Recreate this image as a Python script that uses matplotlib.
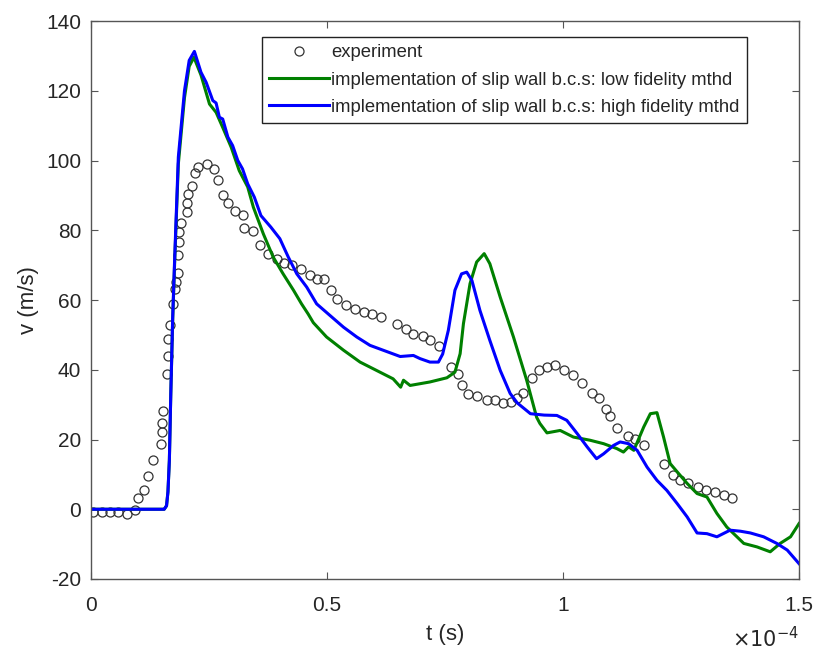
import matplotlib
matplotlib.use("Agg")
import matplotlib.pyplot as plt

plt.rcParams['font.family'] = ['Liberation Sans', 'DejaVu Sans']
plt.rcParams['axes.unicode_minus'] = False

# time in units of 1e-4 s
exp_t = [0.004, 0.023, 0.040, 0.058, 0.076, 0.093, 0.099, 0.112, 0.121, 0.131,
         0.148, 0.150, 0.150, 0.153, 0.162, 0.164, 0.164, 0.168, 0.174, 0.177,
         0.180, 0.185, 0.185, 0.187, 0.187, 0.191, 0.203, 0.203, 0.206, 0.213,
         0.220, 0.227, 0.245, 0.261, 0.269, 0.280, 0.291, 0.305, 0.323, 0.325,
         0.343, 0.359, 0.376, 0.395, 0.409, 0.425, 0.445, 0.463, 0.479, 0.494,
         0.508, 0.522, 0.540, 0.559, 0.579, 0.595, 0.614, 0.648, 0.667, 0.683,
         0.703, 0.718, 0.737, 0.762, 0.778, 0.785, 0.799, 0.817, 0.838, 0.856,
         0.872, 0.890, 0.903, 0.915, 0.935, 0.949, 0.965, 0.984, 1.002, 1.022,
         1.040, 1.061, 1.076, 1.090, 1.100, 1.115, 1.137, 1.153, 1.172, 1.213,
         1.232, 1.248, 1.265, 1.285, 1.303, 1.321, 1.340, 1.357]
exp_v = [-0.8, -0.8, -0.8, -0.8, -1.3, -0.3, 3.1, 5.4, 9.5, 14.0,
         18.8, 22.2, 24.7, 28.1, 38.9, 43.9, 48.7, 52.9, 58.9, 63.2,
         65.3, 67.7, 72.8, 76.6, 79.5, 82.0, 85.1, 87.8, 90.3, 92.8,
         96.5, 98.2, 99.1, 97.6, 94.3, 90.2, 87.8, 85.5, 84.5, 80.6,
         79.7, 75.9, 73.3, 71.8, 70.7, 69.9, 69.0, 67.3, 66.1, 65.9,
         62.9, 60.4, 58.5, 57.5, 56.5, 55.9, 55.1, 53.2, 51.8, 50.3,
         49.6, 48.6, 46.8, 40.8, 38.7, 35.7, 33.0, 32.5, 31.4, 31.4,
         30.6, 30.7, 31.9, 33.4, 37.7, 39.8, 40.8, 41.3, 40.0, 38.4,
         36.2, 33.3, 32.0, 28.7, 26.6, 23.4, 21.0, 20.1, 18.5, 13.1,
         9.9, 8.5, 7.4, 6.4, 5.4, 5.0, 4.0, 3.2]

low_t = [0, 0.155, 0.160, 0.163, 0.166, 0.169, 0.173, 0.177, 0.185, 0.198,
         0.208, 0.218, 0.233, 0.251, 0.265, 0.279, 0.297, 0.314, 0.332, 0.344,
         0.365, 0.386, 0.407, 0.429, 0.446, 0.460, 0.471, 0.499, 0.535, 0.570,
         0.605, 0.640, 0.656, 0.662, 0.676, 0.697, 0.718, 0.754, 0.771, 0.782,
         0.789, 0.803, 0.817, 0.833, 0.845, 0.867, 0.895, 0.923, 0.944, 0.951,
         0.966, 0.994, 1.022, 1.057, 1.086, 1.114, 1.128, 1.139, 1.150, 1.171,
         1.185, 1.199, 1.213, 1.227, 1.242, 1.263, 1.284, 1.305, 1.326, 1.347,
         1.383, 1.411, 1.439, 1.460, 1.482, 1.500]
low_v = [0, 0, 1, 5, 14, 33, 54, 70, 99, 118,
         127, 129.6, 124.5, 116.2, 113.8, 109.5, 103.8, 97.1, 92.4, 86.6,
         79.0, 72.3, 67.5, 62.8, 58.9, 56.0, 53.5, 49.4, 45.6, 42.2,
         39.8, 37.4, 35.0, 37.0, 35.5, 36.0, 36.5, 37.7, 39.3, 44.6,
         53.2, 64.7, 70.9, 73.3, 70.4, 60.8, 49.4, 37.0, 26.4, 24.6,
         21.9, 22.6, 20.7, 19.8, 18.8, 17.4, 16.4, 17.9, 16.9, 23.6,
         27.4, 27.7, 20.7, 13.1, 10.7, 7.4, 4.5, 3.5, -1.2, -5.1,
         -9.8, -10.8, -12.2, -9.8, -7.9, -4.1]

high_t = [0, 0.155, 0.160, 0.163, 0.166, 0.169, 0.173, 0.177, 0.185, 0.198,
          0.208, 0.219, 0.233, 0.244, 0.258, 0.265, 0.272, 0.279, 0.290, 0.300,
          0.311, 0.321, 0.332, 0.346, 0.360, 0.381, 0.400, 0.418, 0.436, 0.457,
          0.478, 0.506, 0.535, 0.563, 0.591, 0.619, 0.655, 0.683, 0.697, 0.718,
          0.736, 0.745, 0.757, 0.771, 0.785, 0.796, 0.807, 0.824, 0.845, 0.867,
          0.888, 0.903, 0.931, 0.960, 0.987, 1.008, 1.030, 1.051, 1.071, 1.086,
          1.107, 1.121, 1.139, 1.157, 1.178, 1.199, 1.220, 1.242, 1.263, 1.284,
          1.305, 1.326, 1.354, 1.376, 1.397, 1.425, 1.453, 1.475, 1.500]
high_v = [0, 0, 1, 5, 14, 33, 55, 71, 101, 120,
          128.7, 131.3, 125.3, 122.4, 117.2, 116.5, 112.4, 111.9, 106.7, 104.3,
          100.0, 97.6, 93.3, 89.5, 84.2, 80.9, 77.6, 72.3, 67.5, 63.7,
          58.9, 55.6, 52.2, 49.4, 47.0, 45.6, 43.8, 44.1, 43.2, 42.2,
          42.2, 44.5, 51.3, 62.8, 67.5, 68.0, 65.6, 57.0, 48.4, 39.8,
          33.2, 30.5, 27.4, 27.0, 26.9, 25.5, 21.7, 17.9, 14.5, 15.9,
          18.3, 19.3, 18.8, 16.9, 12.1, 8.3, 5.4, 1.6, -2.2, -6.8,
          -7.0, -7.9, -6.0, -6.3, -6.8, -7.9, -9.8, -11.7, -15.6]

labels = ["experiment",
          "implementation of slip wall b.c.s: low fidelity mthd",
          "implementation of slip wall b.c.s: high fidelity mthd"]

txt = '#262626'
fig = plt.figure(figsize=(8.17, 6.51), dpi=100)
ax = fig.add_axes([0.1114, 0.1106, 0.8666, 0.8571])

ax.plot(exp_t, exp_v, 'o', mfc='none', mec='#333333', ms=6.5, mew=0.9, label=labels[0])
ax.plot(low_t, low_v, color='#008000', lw=2.2, label=labels[1])
ax.plot(high_t, high_v, color='#0000ff', lw=2.2, label=labels[2])

ax.set_xlim(0, 1.5)
ax.set_ylim(-20, 140)
ax.set_xticks([0, 0.5, 1, 1.5])
ax.set_xticklabels(['0', '0.5', '1', '1.5'])
ax.set_yticks(range(-20, 141, 20))

for s in ax.spines.values():
    s.set_color('#555555')
    s.set_linewidth(1.0)
ax.tick_params(direction='in', length=5, width=0.8, color='#555555',
               top=True, right=True, labelsize=15, labelcolor=txt)
ax.tick_params(axis='x', pad=12)
ax.tick_params(axis='y', pad=7)

ax.set_xlabel('t (s)', fontsize=16, color=txt, labelpad=7)
ax.set_ylabel('v (m/s)', fontsize=16, color=txt, labelpad=5)
ax.text(1.0, -0.106, r'$\times10^{-4}$', transform=ax.transAxes,
        ha='right', va='center', fontsize=15, color=txt)

leg = ax.legend(loc='upper right', bbox_to_anchor=(0.9266, 0.9713), fontsize=13.3,
                frameon=True, fancybox=False, edgecolor='#222222', framealpha=1,
                handlelength=3.2, handletextpad=0.15, borderpad=0.4,
                labelspacing=0.55, borderaxespad=0, numpoints=1)
leg.get_frame().set_linewidth(1.0)
for t in leg.get_texts():
    t.set_color(txt)

fig.savefig('out.png', dpi=100)
